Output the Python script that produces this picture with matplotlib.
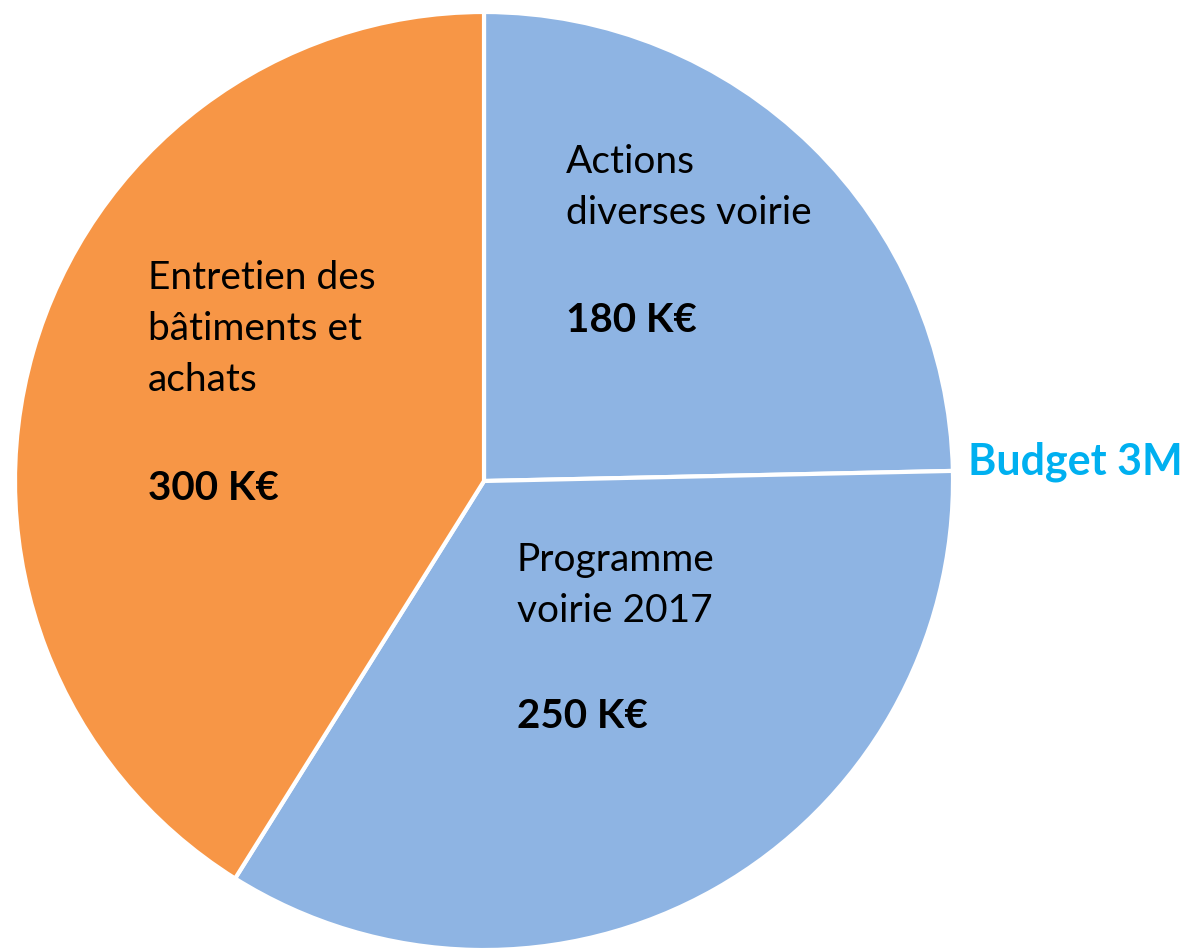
import matplotlib.pyplot as plt

# Data
labels = ["Actions\ndiverses voirie", "Programme\nvoirie 2017", "Entretien des\nbâtiments et\nachats"]
values = [180, 250, 300]
colors = ["#8EB4E3", "#8EB4E3", "#F79646"]

W, H = 1188, 949
fig = plt.figure(figsize=(W / 100, H / 100), dpi=100)
ax = fig.add_axes([0, 0, 1, 1])

cx, cy, r = 484, H - 481, 469
ax.pie(values, colors=colors, startangle=90, counterclock=False,
       center=(cx, cy), radius=r, frame=True,
       wedgeprops=dict(edgecolor="white", linewidth=3))
ax.set_xlim(0, W)
ax.set_ylim(0, H)
ax.axis("off")

font = "Lato"
# label anchor (left x, first line center y in pixels from top), value line y
pos = [(566, 162, 320), (517, 560, 716), (148, 278, 488)]
for lab, val, (x, y0, yv) in zip(labels, values, pos):
    for i, line in enumerate(lab.split("\n")):
        ax.text(x, H - (y0 + i * 51), line, fontsize=28, family=font,
                ha="left", va="center", color="black")
    ax.text(x, H - yv, f"{val} K€", fontsize=29, family=font,
            fontweight="bold", ha="left", va="center", color="black")

ax.text(968, H - 462, "Budget 3M", fontsize=31, family=font,
        fontweight="bold", color="#00B0F0", ha="left", va="center")

fig.savefig("out.png", dpi=100)
